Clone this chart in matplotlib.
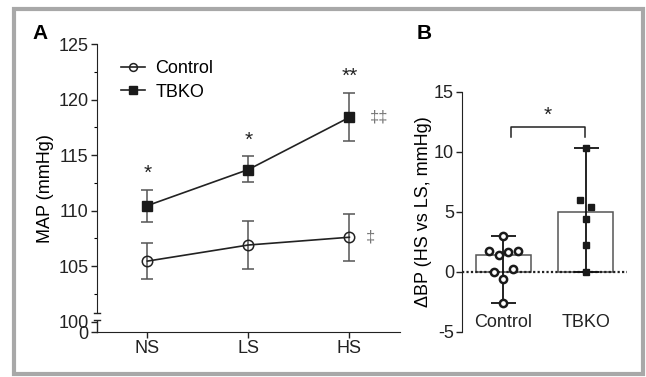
import numpy as np
import matplotlib
matplotlib.use("Agg")
import matplotlib.pyplot as plt
from matplotlib.patches import Rectangle

plt.rcParams['font.family'] = ['Liberation Sans', 'DejaVu Sans']
plt.rcParams['axes.unicode_minus'] = False

# panel A data
diets = ["NS", "LS", "HS"]
ctrl_mean = [105.45, 106.9, 107.6]
ctrl_lo = [103.8, 104.7, 105.5]
ctrl_hi = [107.1, 109.1, 109.7]
tbko_mean = [110.45, 113.7, 118.4]
tbko_lo = [109.0, 112.6, 116.3]
tbko_hi = [111.9, 114.9, 120.6]
stars_a = ["*", "*", "**"]

# panel B data
groups = ["Control", "TBKO"]
bar_vals = [1.39, 4.95]
ctrl_pts = [2.97, 1.75, 1.36, 1.61, 1.75, 0.0, 0.2, -0.6, -2.58]
ctrl_dx = [0, -0.18, -0.06, 0.06, 0.18, -0.12, 0.12, 0, 0]
tbko_pts = [10.33, 5.95, 5.39, 4.39, 2.22, 0.0]
tbko_dx = [0, -0.065, 0.065, 0, 0, 0]

fs = 13

fig = plt.figure(figsize=(6.46, 3.77), dpi=100)

# grey frame
fig.patches.append(Rectangle((0.0217, 0.008), 0.9744, 0.968, transform=fig.transFigure,
                             fill=False, edgecolor="#a8a8a8", linewidth=3))

# ---------- panel A ----------
ax = fig.add_axes([0.150, 0.119, 0.469, 0.764])
x = np.arange(len(diets))
errc = "#555555"
ax.errorbar(x, ctrl_mean, yerr=[np.array(ctrl_mean) - ctrl_lo, np.array(ctrl_hi) - ctrl_mean],
            fmt="none", ecolor=errc, elinewidth=1.1, capsize=4, capthick=1.1)
ax.errorbar(x, tbko_mean, yerr=[np.array(tbko_mean) - tbko_lo, np.array(tbko_hi) - tbko_mean],
            fmt="none", ecolor=errc, elinewidth=1.1, capsize=4, capthick=1.1)
ax.plot(x, ctrl_mean, color="#222222", lw=1.2, marker="o", ms=7.5, mfc="none",
        mec="#222222", mew=1.1, label="Control")
ax.plot(x, tbko_mean, color="#222222", lw=1.2, marker="s", ms=7, mfc="#1a1a1a",
        mec="#1a1a1a", label="TBKO")

for i, s in enumerate(stars_a):
    ax.text(x[i], tbko_hi[i] + 0.6, s, ha="center", va="bottom", fontsize=15, color="#222222")
ax.text(2.2, tbko_mean[2], "\u2021\u2021", ha="left", va="center", fontsize=12, color="#777777")
ax.text(2.16, ctrl_mean[2], "\u2021", ha="left", va="center", fontsize=12, color="#777777")

ybot = 99.05
ax.set_ylim(ybot, 125)
ax.set_xlim(-0.5, 2.5)
ax.set_yticks([ybot, 100, 105, 110, 115, 120, 125])
ax.set_yticklabels(["0", "100", "105", "110", "115", "120", "125"])
ax.set_yticks(np.arange(102.5, 125, 5), minor=True)
ax.set_xticks(x)
ax.set_xticklabels(diets)
ax.tick_params(axis="both", labelsize=fs, length=4, width=1, colors="#222222", pad=2)
ax.tick_params(axis="y", which="minor", length=2, width=0.8)
for sp in ["top", "right"]:
    ax.spines[sp].set_visible(False)
ax.spines["left"].set_bounds(100.75, 125)
ax.spines["bottom"].set_color("#222222")
ax.spines["left"].set_color("#222222")
# axis break
ax.plot([-0.5, -0.5], [ybot, 100.05], color="#222222", lw=1, clip_on=False)
ax.plot([-0.53, -0.47], [100.75, 100.75], color="#222222", lw=1, clip_on=False)
ax.plot([-0.53, -0.47], [100.1, 100.1], color="#222222", lw=1, clip_on=False)
ax.set_ylabel("MAP (mmHg)", fontsize=fs, labelpad=3)
leg = ax.legend(loc="upper left", bbox_to_anchor=(0.05, 0.975), frameon=False, fontsize=fs,
                handlelength=1.3, handletextpad=0.6, markerscale=0.75, borderpad=0,
                labelspacing=0.35)
fig.text(0.05, 0.91, "A", fontsize=15, fontweight="bold", va="center")

# ---------- panel B ----------
bx = fig.add_axes([0.7157, 0.120, 0.2545, 0.637])
xb = np.arange(len(groups))
bx.bar(xb, bar_vals, width=0.67, color="white", edgecolor="#555555", linewidth=1.1, zorder=1)
bx.axhline(0, color="#222222", lw=1.6, ls=(0, (1, 1)), zorder=2)
for i, pts in enumerate([ctrl_pts, tbko_pts]):
    bx.errorbar(xb[i], np.mean([max(pts), min(pts)]),
                yerr=(max(pts) - min(pts)) / 2, fmt="none", ecolor="#111111",
                elinewidth=1.3, capsize=9, capthick=1.3, zorder=3)
bx.plot(xb[0] + np.array(ctrl_dx), ctrl_pts, "o", ms=5.2, mfc="white", mec="#1a1a1a",
        mew=1.8, zorder=4, ls="none")
bx.plot(xb[1] + np.array(tbko_dx), tbko_pts, "s", ms=5, mfc="#1a1a1a", mec="#1a1a1a",
        zorder=4, ls="none")
# significance bracket
bx.plot([0.09, 0.09, 0.99, 0.99], [11.2, 12.06, 12.06, 11.2], color="#222222", lw=1.1)
bx.text(0.54, 12.2, "*", ha="center", va="bottom", fontsize=15, color="#222222")

bx.set_xlim(-0.5, 1.5)
bx.set_ylim(-5, 15)
bx.set_yticks([-5, 0, 5, 10, 15])
bx.set_xticks(xb)
bx.set_xticklabels(groups)
bx.tick_params(axis="y", labelsize=fs, length=4, width=1, colors="#222222", pad=2)
bx.tick_params(axis="x", labelsize=fs, length=0, colors="#222222", pad=-13)
for sp in ["top", "right", "bottom"]:
    bx.spines[sp].set_visible(False)
bx.spines["left"].set_color("#222222")
bx.set_ylabel("\u0394BP (HS vs LS, mmHg)", fontsize=fs, labelpad=1)
fig.text(0.645, 0.91, "B", fontsize=15, fontweight="bold", va="center")

fig.savefig("out.png", dpi=100)
